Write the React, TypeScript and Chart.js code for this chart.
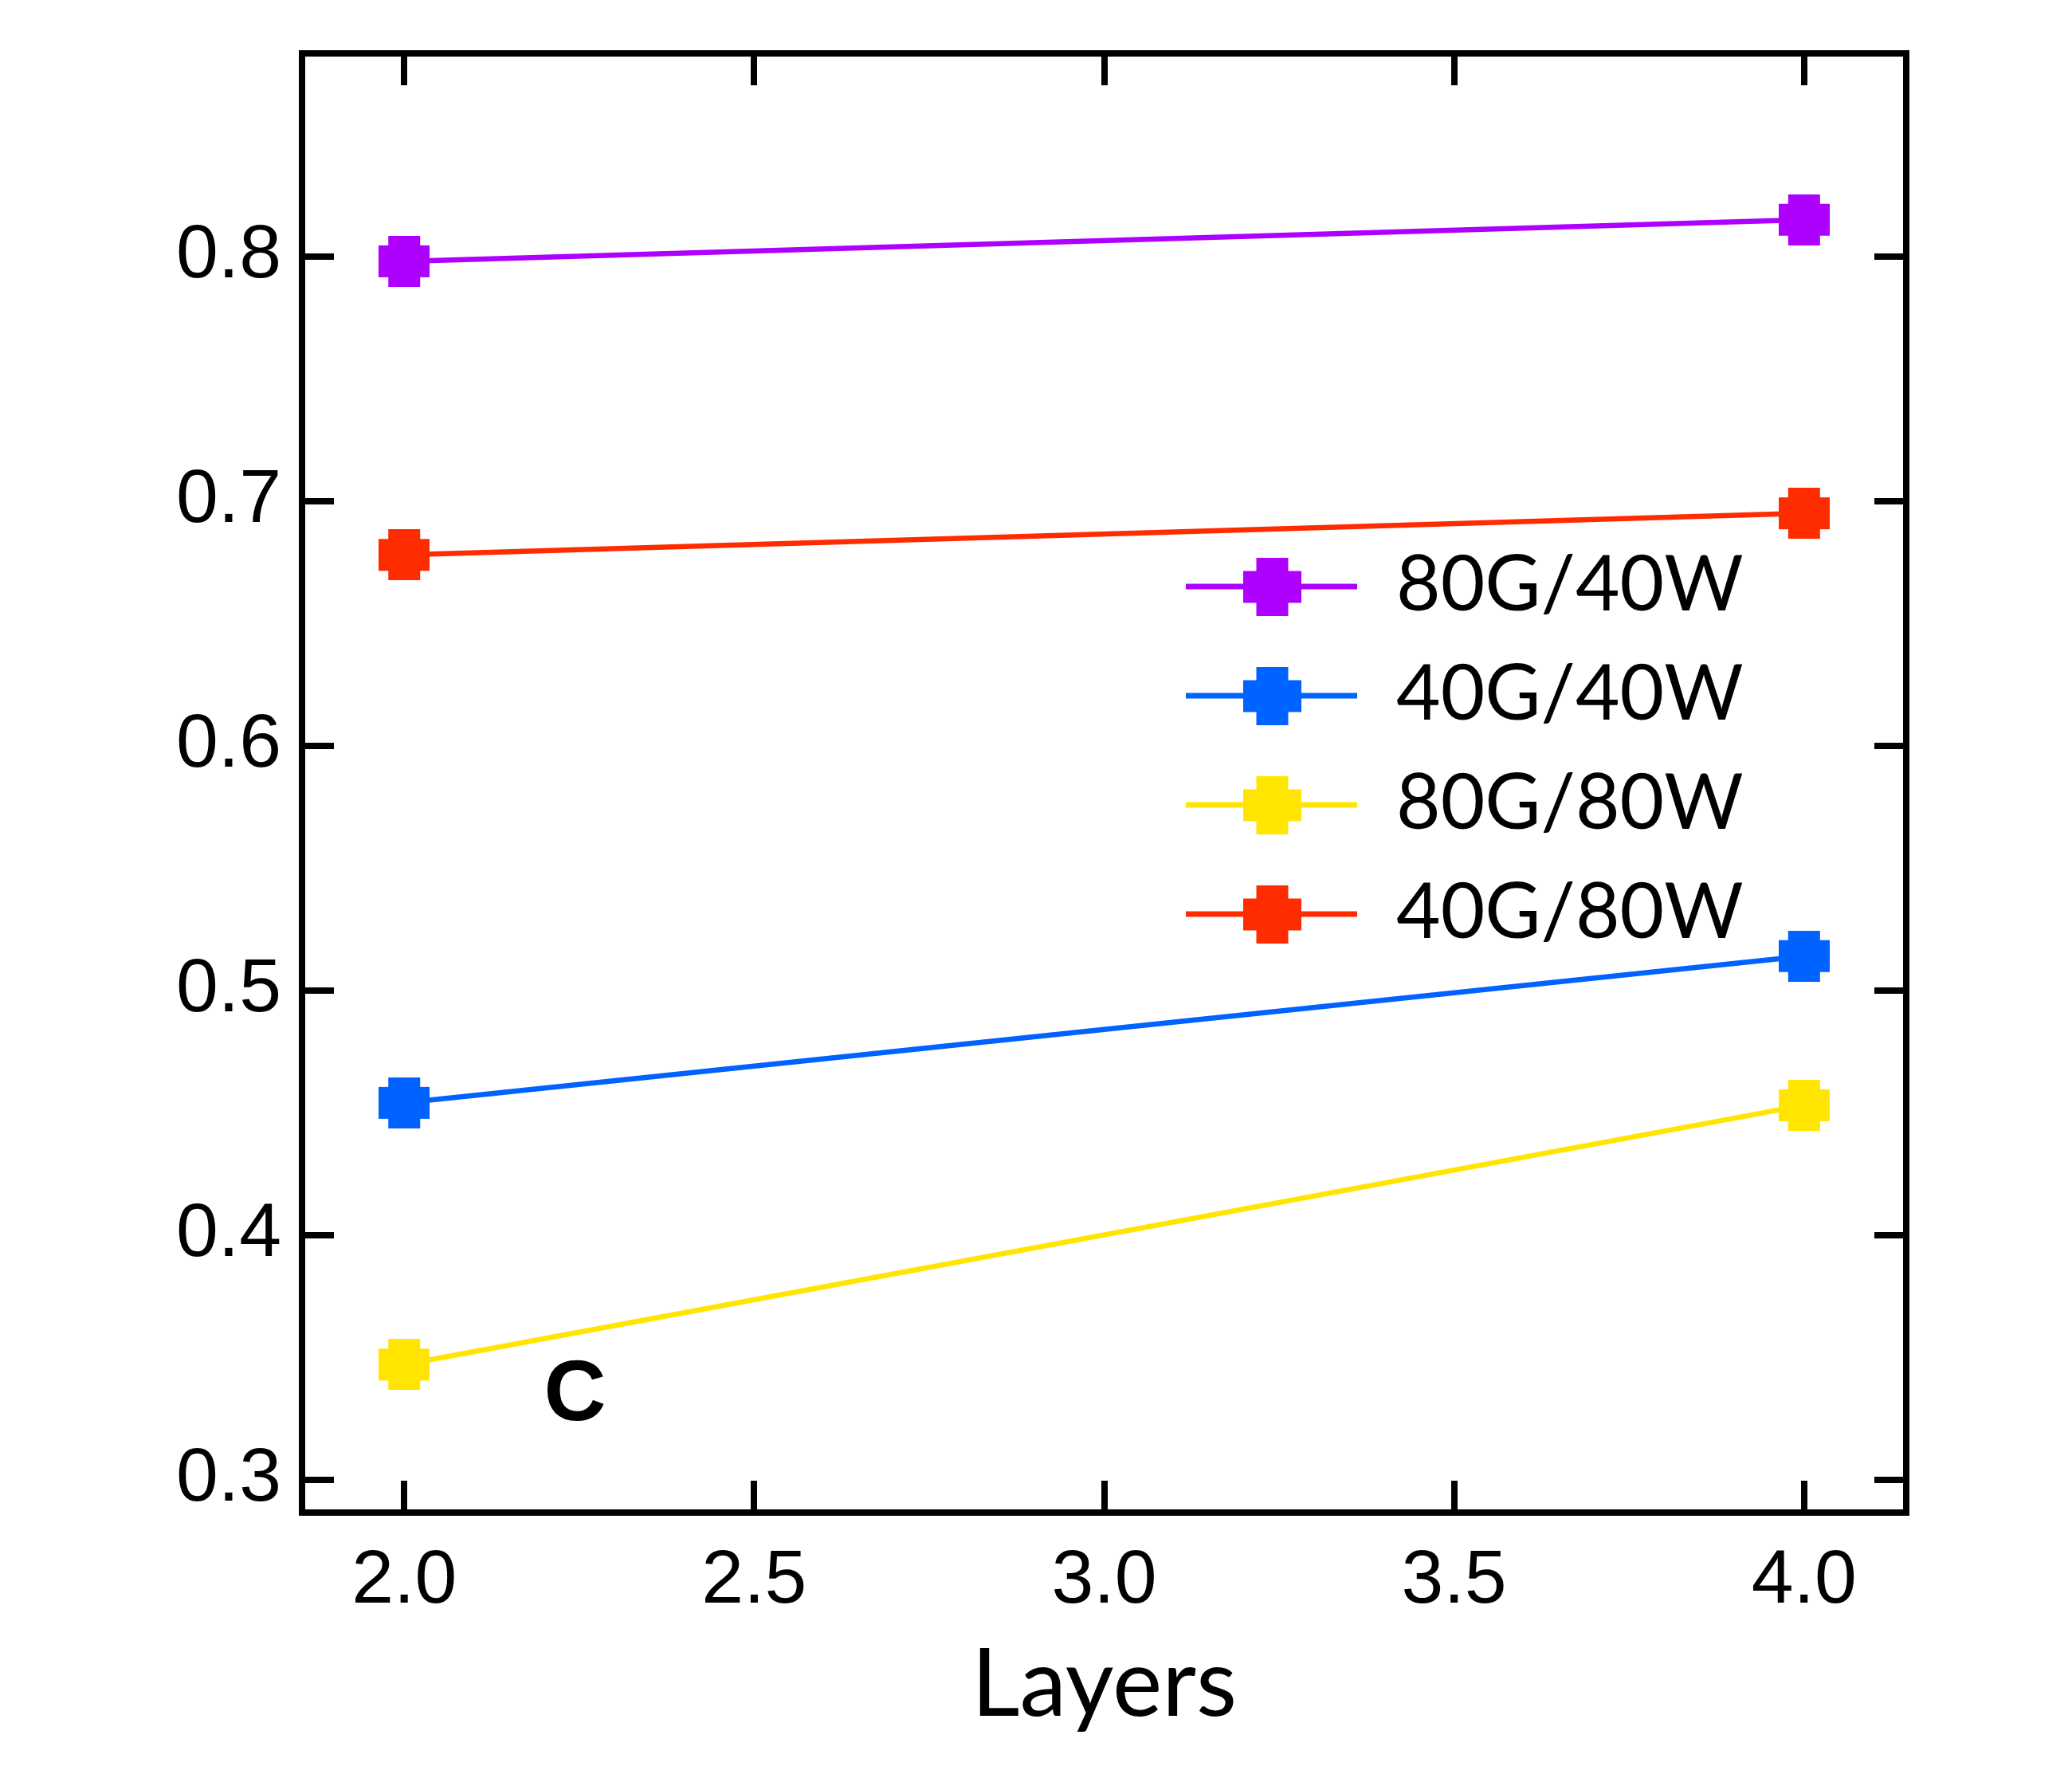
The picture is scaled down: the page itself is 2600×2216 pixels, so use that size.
import React, { useEffect, useRef } from "react";
import { Chart, registerables } from "chart.js";

Chart.register(...registerables);

// ---- data ----
const layers = [2.0, 4.0];
const series80G40W = [0.798, 0.815];
const series40G40W = [0.454, 0.514];
const series80G80W = [0.347, 0.453];
const series40G80W = [0.678, 0.695];
const seriesLabels = ["80G/40W", "40G/40W", "80G/80W", "40G/80W"];
const seriesColors = ["#AD00FF", "#0062FF", "#FFE500", "#FF2C00"];
const xTitle = "Layers";
const panelLabel = "C";
const panelLabelX = 2.244;
const panelLabelY = 0.334;
const xRange = [1.854, 4.146];
const yRange = [0.2865, 0.883];

const W = 2600;
const H = 2216;

function makeMarker(color: string, size: number, arm: number) {
  const c = document.createElement("canvas");
  c.width = size;
  c.height = size;
  const g = c.getContext("2d")!;
  g.fillStyle = color;
  const cut = (size - arm) / 2;
  g.fillRect(cut, 0, arm, size);
  g.fillRect(0, cut, size, arm);
  return c;
}

const frameTicks = {
  id: "frameTicks",
  afterDraw(chart: any) {
    const { ctx, chartArea: a, scales } = chart;
    const x = scales.x;
    const y = scales.y;
    const len = 40;
    ctx.save();
    ctx.strokeStyle = "#000";
    ctx.lineWidth = 8;
    ctx.lineCap = "butt";
    ctx.beginPath();
    x.ticks.forEach((_t: any, i: number) => {
      const px = Math.round(x.getPixelForTick(i));
      ctx.moveTo(px, a.bottom);
      ctx.lineTo(px, a.bottom - len);
      ctx.moveTo(px, a.top);
      ctx.lineTo(px, a.top + len);
    });
    y.ticks.forEach((_t: any, i: number) => {
      const py = Math.round(y.getPixelForTick(i));
      ctx.moveTo(a.left, py);
      ctx.lineTo(a.left + len, py);
      ctx.moveTo(a.right, py);
      ctx.lineTo(a.right - len, py);
    });
    ctx.stroke();
    ctx.lineJoin = "miter";
    ctx.strokeRect(a.left, a.top, a.right - a.left, a.bottom - a.top);
    ctx.restore();
  },
};

const panelText = {
  id: "panelText",
  afterDatasetsDraw(chart: any) {
    const { ctx, scales } = chart;
    ctx.save();
    ctx.fillStyle = "#000";
    ctx.font = "bold 108px 'Liberation Sans', Arial, sans-serif";
    ctx.textAlign = "center";
    ctx.textBaseline = "middle";
    ctx.fillText(
      panelLabel,
      scales.x.getPixelForValue(panelLabelX),
      scales.y.getPixelForValue(panelLabelY)
    );
    ctx.restore();
  },
};

const innerLegend = {
  id: "innerLegend",
  afterDraw(chart: any) {
    const { ctx, chartArea: a } = chart;
    const lineX0 = a.left + 1109;
    const lineX1 = a.left + 1324;
    const markX = a.left + 1217;
    const textX = a.left + 1373;
    const y0 = a.top + 669;
    const step = 137;
    ctx.save();
    chart.data.datasets.forEach((ds: any, i: number) => {
      const yy = y0 + i * step;
      ctx.strokeStyle = ds.borderColor;
      ctx.lineWidth = 7;
      ctx.beginPath();
      ctx.moveTo(lineX0, yy);
      ctx.lineTo(lineX1, yy);
      ctx.stroke();
      const m = makeMarker(ds.borderColor, 73, 40);
      ctx.drawImage(m, Math.round(markX - 36.5), Math.round(yy - 36.5));
      ctx.fillStyle = "#000";
      ctx.font = "96px Lato, 'Open Sans', sans-serif";
      ctx.textAlign = "left";
      ctx.textBaseline = "alphabetic";
      ctx.fillText(ds.label, textX, yy + 30);
    });
    ctx.restore();
  },
};

export default function App() {
  const ref = useRef<HTMLCanvasElement | null>(null);

  useEffect(() => {
    const canvas = ref.current;
    if (!canvas) return;
    const allSeries = [series80G40W, series40G40W, series80G80W, series40G80W];
    const datasets = allSeries.map((vals, i) => ({
      label: seriesLabels[i],
      data: layers.map((lx, j) => ({ x: lx, y: vals[j] })),
      borderColor: seriesColors[i],
      backgroundColor: seriesColors[i],
      borderWidth: 6.5,
      pointStyle: makeMarker(seriesColors[i], 64, 40),
      pointRadius: 32,
      pointHoverRadius: 32,
      tension: 0,
    }));
    const tickFont = { family: "'Liberation Sans', Arial, sans-serif", size: 95 };
    const chart = new Chart(canvas, {
      type: "line",
      data: { datasets },
      options: {
        animation: false,
        responsive: false,
        devicePixelRatio: 1,
        events: [],
        layout: { padding: { top: 67, right: W - 2392, left: 0, bottom: 0 } },
        plugins: {
          legend: { display: false },
          tooltip: { enabled: false },
          title: { display: false },
        },
        scales: {
          x: {
            type: "linear",
            min: xRange[0],
            max: xRange[1],
            grid: { display: false, drawTicks: false },
            border: { display: false },
            ticks: {
              stepSize: 0.5,
              includeBounds: false,
              color: "#000",
              font: tickFont,
              padding: 30,
              maxRotation: 0,
              callback: (v: any) => Number(v).toFixed(1),
            },
            title: {
              display: true,
              text: xTitle,
              color: "#000",
              font: { family: "Lato, 'Open Sans', sans-serif", size: 118, lineHeight: 1.2 },
              padding: { top: 0, bottom: 30 },
            },
            afterFit: (s: any) => {
              s.height = H - 1898;
              s.paddingLeft = 0;
              s.paddingRight = 0;
            },
          },
          y: {
            type: "linear",
            min: yRange[0],
            max: yRange[1],
            grid: { display: false, drawTicks: false },
            border: { display: false },
            ticks: {
              stepSize: 0.1,
              includeBounds: false,
              color: "#000",
              font: tickFont,
              padding: 26,
              callback: (v: any) => Number(v).toFixed(1),
            },
            afterFit: (s: any) => {
              s.width = 379;
              s.paddingTop = 0;
              s.paddingBottom = 0;
            },
          },
        },
      },
      plugins: [frameTicks, panelText, innerLegend],
    } as any);
    return () => chart.destroy();
  }, []);

  return (
    <div style={{ position: "fixed", left: 0, top: 0, width: W, height: H, background: "#fff" }}>
      <canvas ref={ref} width={W} height={H} style={{ width: W, height: H, display: "block" }} />
    </div>
  );
}
